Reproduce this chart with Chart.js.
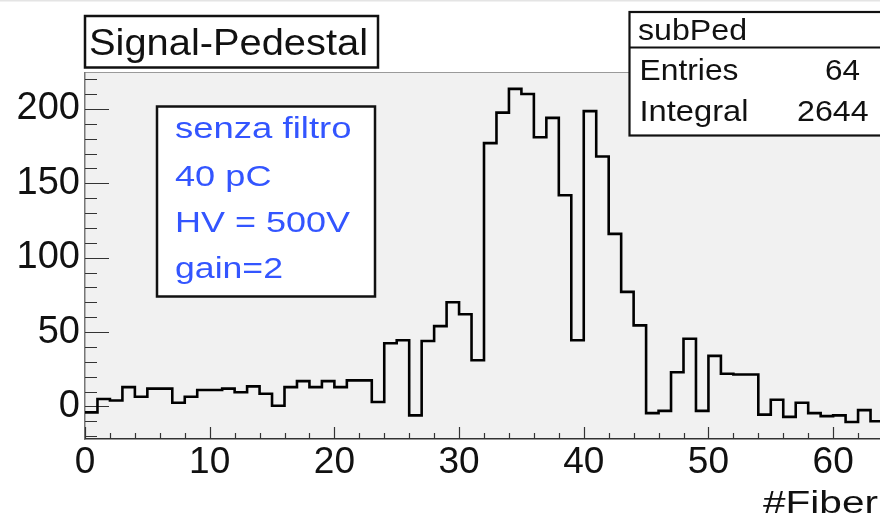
<!DOCTYPE html>
<html>
<head>
<meta charset="utf-8">
<script src="https://cdn.jsdelivr.net/npm/chart.js@4.4.1/dist/chart.umd.min.js"></script>
<style>
  html, body { margin: 0; padding: 0; background: #fff; overflow: hidden; }
  #wrap { position: relative; width: 900px; height: 519px; }
  canvas { display: block; }
</style>
</head>
<body>
<div id="wrap"><canvas id="c" width="900" height="519"></canvas></div>
<script>
// ---- data ----
const histName = "subPed";
const plotTitle = "Signal-Pedestal";
const xAxisTitle = "#Fiber";
const infoLines = ["senza filtro", "40 pC", "HV = 500V", "gain=2"];
const statsEntries = "64";
const statsIntegral = "2644";
const xTickLabels = [0, 10, 20, 30, 40, 50, 60];
const yTickLabels = [0, 50, 100, 150, 200];
const fiberCounts = [
  -4, 5, 4, 13, 6.5, 12, 12, 2.5, 6.5, 11, 11, 12,
  9.5, 13.5, 8.5, 0.5, 13, 17, 13, 17, 13, 17.5, 17.5, 3,
  42.5, 44.5, -6, 44, 54, 70, 62, 31,
  177, 197.5, 213.5, 210, 181, 194, 142, 44.5, 198.5, 168, 116, 77, 54.5,
  -4.5, -3, 23, 45.5, -3, 34, 22, 21.5, 21.5, -5.5, 4.5, -7, 2.5, -4.5, -6.5, -6, -10.5, -2.5, -10
];
// bin low edges 0..63 (one bin per fiber), closing edge at 64
const binEdges = fiberCounts.map((_, i) => i);
const histPoints = binEdges.map((e, i) => ({ x: e, y: fiberCounts[i] }));
histPoints.push({ x: fiberCounts.length, y: fiberCounts[fiberCounts.length - 1] });

const FONT = "'Liberation Sans', Arial, Helvetica, sans-serif";

function fitText(ctx, text, x, baseline, px, width, color, align) {
  ctx.save();
  ctx.font = px + "px " + FONT;
  ctx.fillStyle = color;
  ctx.textBaseline = "alphabetic";
  ctx.textAlign = "left";
  const w = ctx.measureText(text).width;
  const sx = width / w;
  const left = align === "right" ? x - width : x;
  ctx.translate(left, baseline);
  ctx.scale(sx, 1);
  ctx.fillText(text, 0, 0);
  ctx.restore();
}

function box(ctx, x1, y1, x2, y2, lw) {
  ctx.save();
  ctx.fillStyle = "#fff";
  ctx.fillRect(x1, y1, x2 - x1, y2 - y1);
  ctx.strokeStyle = "#111";
  ctx.lineWidth = lw;
  ctx.strokeRect(x1, y1, x2 - x1, y2 - y1);
  ctx.restore();
}

const rootStyle = {
  id: "rootStyle",
  beforeDraw(chart) {
    const ctx = chart.ctx, a = chart.chartArea;
    ctx.save();
    ctx.fillStyle = "#fff";
    ctx.fillRect(0, 0, chart.width, chart.height);
    ctx.fillStyle = "#e4e4e4";
    ctx.fillRect(0, 0, chart.width, 1.5);
    ctx.fillStyle = "#f1f1f1";
    ctx.fillRect(a.left, a.top, a.right - a.left, a.bottom - a.top);
    ctx.strokeStyle = "#9a9a9a";
    ctx.lineWidth = 1.2;
    ctx.beginPath();
    ctx.moveTo(a.left, a.top); ctx.lineTo(a.right, a.top);
    ctx.stroke();
    ctx.restore();
  },
  beforeDatasetsDraw(chart) {
    const ctx = chart.ctx, a = chart.chartArea;
    const xs = chart.scales.x, ys = chart.scales.y;
    ctx.save();
    ctx.strokeStyle = "#333";
    ctx.lineWidth = 1.2;
    ctx.beginPath();
    for (let v = 0; v <= xs.max; v += 2) {
      const px = Math.round(xs.getPixelForValue(v)) + 0.5;
      const len = v % 10 === 0 ? 12 : 6;
      ctx.moveTo(px, a.bottom); ctx.lineTo(px, a.bottom - len);
    }
    for (let v = -20; v <= ys.max; v += 10) {
      const py = Math.round(ys.getPixelForValue(v)) + 0.5;
      const len = v % 50 === 0 ? 24 : 12;
      ctx.moveTo(a.left, py); ctx.lineTo(a.left + len, py);
    }
    ctx.stroke();
    ctx.restore();
  },
  afterDraw(chart) {
    const ctx = chart.ctx;
    // title box
    box(ctx, 85, 16, 378, 67.5, 2.5);
    fitText(ctx, plotTitle, 89, 55, 37, 279, "#111");
    // info box
    box(ctx, 157, 106.5, 375, 296.5, 2.5);
    const blue = "#3355ff";
    fitText(ctx, infoLines[0], 175, 137.5, 30, 176.5, blue);
    fitText(ctx, infoLines[1], 175, 185.5, 30, 96.5, blue);
    fitText(ctx, infoLines[2], 175, 231.5, 30, 175, blue);
    fitText(ctx, infoLines[3], 175, 277.5, 30, 108, blue);
    // stats box
    box(ctx, 629.5, 12, 895, 135.5, 2.2);
    ctx.save();
    ctx.strokeStyle = "#111"; ctx.lineWidth = 2.2;
    ctx.beginPath(); ctx.moveTo(629.5, 47.5); ctx.lineTo(895, 47.5); ctx.stroke();
    ctx.restore();
    fitText(ctx, histName, 638, 39.5, 29, 109, "#111");
    fitText(ctx, "Entries", 639.5, 80, 29, 99, "#111");
    fitText(ctx, statsEntries, 860, 80, 29, 35, "#111", "right");
    fitText(ctx, "Integral", 639.5, 120.5, 29, 109, "#111");
    fitText(ctx, statsIntegral, 868.5, 120.5, 29, 71.5, "#111", "right");
    // x axis title
    fitText(ctx, xAxisTitle, 878, 512.5, 31, 115, "#111", "right");
  }
};

new Chart(document.getElementById("c"), {
  type: "line",
  data: {
    datasets: [{
      label: histName,
      data: histPoints,
      stepped: "before",
      borderColor: "#000",
      borderWidth: 2.6,
      pointRadius: 0,
      fill: false,
      tension: 0
    }]
  },
  options: {
    responsive: false,
    animation: false,
    devicePixelRatio: 1,
    layout: { padding: { top: 72.5, right: 17, bottom: 0, left: 0 } },
    plugins: { legend: { display: false }, tooltip: { enabled: false }, title: { display: false } },
    scales: {
      x: {
        type: "linear",
        min: 0, max: 64,
        grid: { display: false, drawTicks: false },
        border: { display: true, color: "#333", width: 1.5 },
        afterFit(s) { s.height = 80; },
        afterBuildTicks(s) { s.ticks = xTickLabels.map(v => ({ value: v })); },
        ticks: {
          autoSkip: false, maxRotation: 0, padding: 2,
          color: "#111",
          font: { family: FONT, size: 37 }
        }
      },
      y: {
        type: "linear",
        min: -21.9, max: 224.5,
        grid: { display: false, drawTicks: false },
        border: { display: true, color: "#777", width: 1.5 },
        afterFit(s) { s.width = 85; },
        afterBuildTicks(s) { s.ticks = yTickLabels.map(v => ({ value: v })); },
        ticks: {
          autoSkip: false, padding: 5,
          color: "#111",
          font: { family: FONT, size: 38 }
        }
      }
    }
  },
  plugins: [rootStyle]
});
</script>
</body>
</html>
